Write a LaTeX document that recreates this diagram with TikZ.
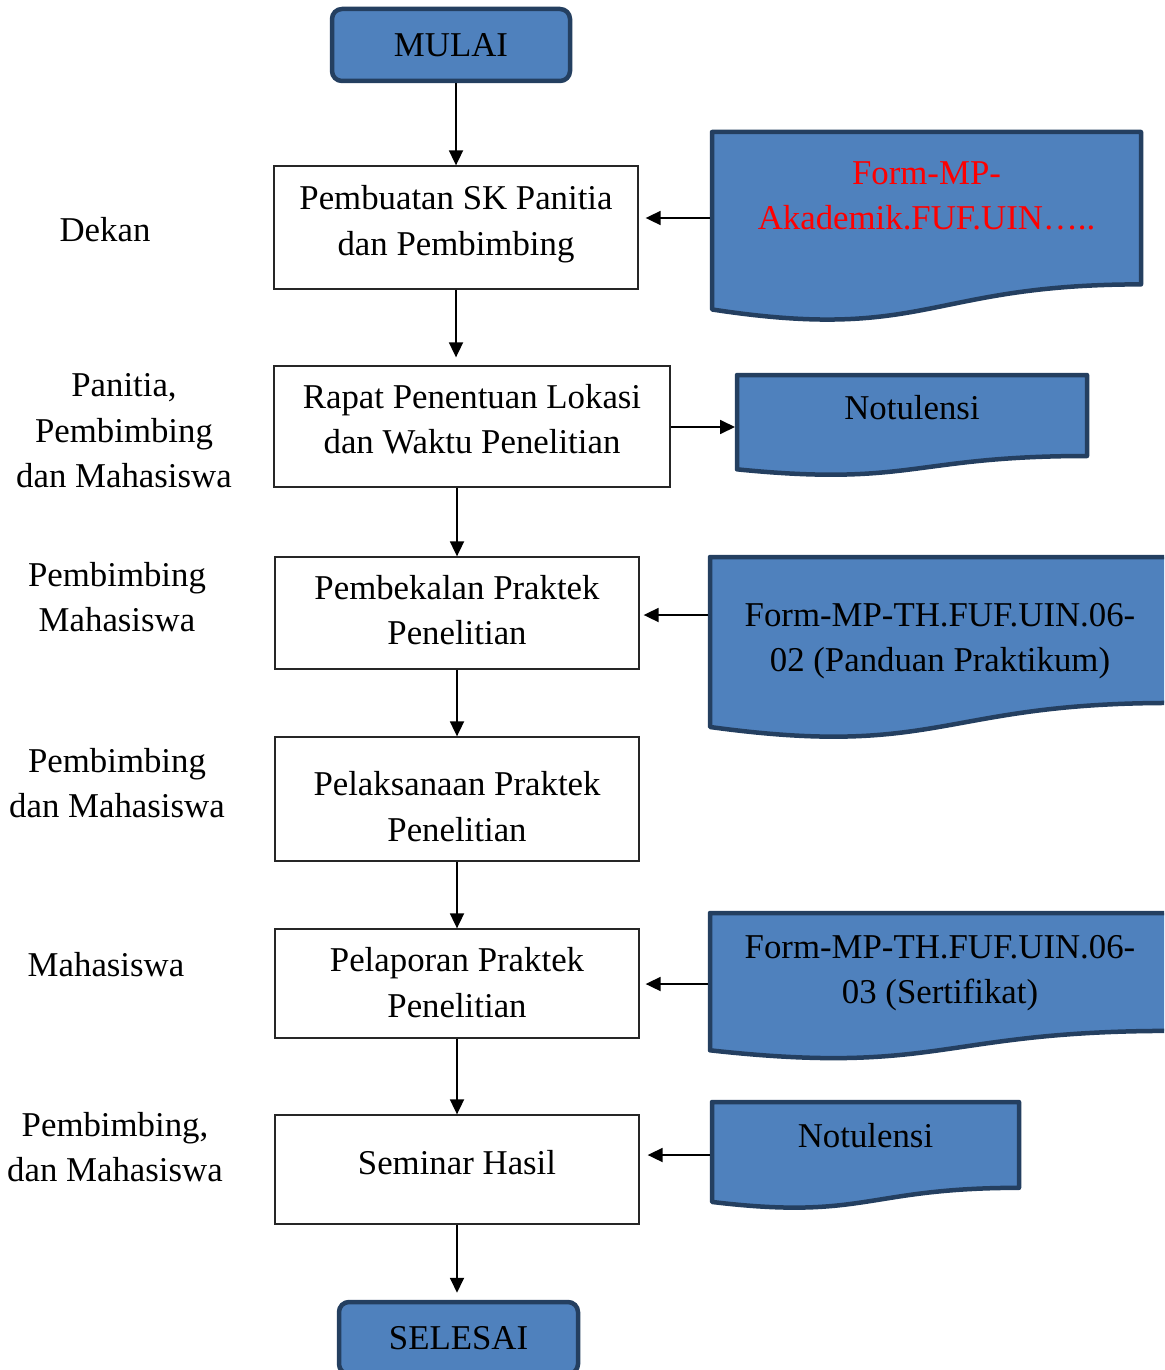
\documentclass[tikz,border=0pt]{standalone}
\usepackage{fontspec}
\setmainfont{Liberation Serif}
\usetikzlibrary{arrows.meta,calc}
\definecolor{docfill}{HTML}{4F81BD}
\definecolor{docline}{HTML}{243F60}
\newcommand{\mydocshape}[4]{% x0, y0, W, H
  \draw[docst] (#1,#2) -- ({#1+#3},#2) -- ({#1+#3},{#2+0.802*#4})
    .. controls ({#1+0.5*#3},{#2+0.802*#4}) and ({#1+0.5*#3},{#2+1.107*#4}) ..
    (#1,{#2+0.934*#4}) -- cycle;}
\newcommand{\shifttext}[2]{\raisebox{#1}[\height][\depth]{\begin{tabular}{@{}c@{}}#2\end{tabular}}}
\begin{document}
\begin{tikzpicture}[x=1pt,y=-1pt,
  font=\fontsize{34.8}{45.5}\selectfont,
  procbox/.style={draw=black!85, line width=1.3pt, fill=white, minimum width=364pt, align=center, inner sep=0pt},
  termbox/.style={draw=docline, line width=4.5pt, fill=docfill, rounded corners=10pt, minimum width=238pt, minimum height=72pt, inner sep=0pt},
  docst/.style={draw=docline, line width=4.5pt, fill=docfill, line join=round},
  doctext/.style={align=center, inner sep=0pt},
  arr/.style={line width=1.8pt, -{Triangle[length=15pt,width=14pt]}},
  lbl/.style={align=center, inner sep=0pt}]
\clip (0,0) rectangle (1164,1370);
\fill[white] (0,0) rectangle (1164,1370);

% terminals
\node[termbox] (m) at (451,45) {MULAI};
\node[termbox, minimum width=239pt] (s) at (458.5,1338) {SELESAI};

% process boxes
\node[procbox, minimum height=123pt] (b1) at (456,227.5) {\shifttext{4pt}{Pembuatan SK Panitia\\dan Pembimbing}};
\node[procbox, minimum width=396pt, minimum height=121pt] (b2) at (472,426.5) {\shifttext{4.5pt}{Rapat Penentuan Lokasi\\dan Waktu Penelitian}};
\node[procbox, minimum height=112pt] (b3) at (457,613) {\shifttext{0pt}{Pembekalan Praktek\\Penelitian}};
\node[procbox, minimum height=124pt] (b4) at (457,799) {\shifttext{-10.5pt}{Pelaksanaan Praktek\\Penelitian}};
\node[procbox, minimum height=109pt] (b5) at (457,983.5) {\shifttext{-2pt}{Pelaporan Praktek\\Penelitian}};
\node[procbox, minimum height=109pt] (b6) at (457,1169.5) {\shifttext{4pt}{Seminar Hasil}};

% documents
\mydocshape{712}{132}{429}{190}
\coordinate (d1L) at (710,218);
\node[doctext, text=red] (d1) at (926.5,196) {Form-MP-\\Akademik.FUF.UIN\ldots..};

\mydocshape{737}{375}{350}{101}
\coordinate (d2L) at (735,427);
\node[doctext] (d2) at (912,408) {Notulensi};

\mydocshape{710}{557}{460}{182}
\coordinate (d3L) at (708,615);
\node[doctext] (d3) at (940,641) {Form-MP-TH.FUF.UIN.06-\\02 (Panduan Praktikum)};

\mydocshape{710}{913}{460}{147}
\coordinate (d4L) at (708,984);
\node[doctext] (d4) at (940,973) {Form-MP-TH.FUF.UIN.06-\\03 (Sertifikat)};

\mydocshape{712}{1102}{307}{107}
\coordinate (d5L) at (710,1155);
\node[doctext] (d5) at (865.5,1136) {Notulensi};

% left labels
\node[lbl] (l1) at (105,230) {Dekan};
\node[lbl] (l2) at (124,431) {Panitia,\\Pembimbing\\dan Mahasiswa};
\node[lbl] (l3) at (117,597) {Pembimbing\\Mahasiswa};
\node[lbl] (l4) at (117,783) {Pembimbing\\dan Mahasiswa};
\node[lbl] (l5) at (106,965) {Mahasiswa};
\node[lbl] (l6) at (115,1147) {Pembimbing,\\dan Mahasiswa};

% vertical arrows
\draw[arr] (m.south -| b1.north) -- (b1.north);
\draw[arr] (b1.south) -- ($(b1.south |- b2.north)+(0,-8)$);
\draw[arr] (b2.south -| b3.north) -- (b3.north);
\draw[arr] (b3.south) -- (b4.north);
\draw[arr] (b4.south) -- (b5.north);
\draw[arr] (b5.south) -- (b6.north);
\draw[arr] (b6.south) -- ($(b6.south |- s.north)+(0,-7)$);

% horizontal arrows
\draw[arr, shorten >=7pt] (d1L) -- (d1L -| b1.east);
\draw[arr] (b2.east |- d2L) -- (d2L);
\draw[arr, shorten >=4pt] (d3L) -- (d3L -| b3.east);
\draw[arr, shorten >=6pt] (d4L) -- (d4L -| b5.east);
\draw[arr, shorten >=8pt] (d5L) -- (d5L -| b6.east);
\end{tikzpicture}
\end{document}
